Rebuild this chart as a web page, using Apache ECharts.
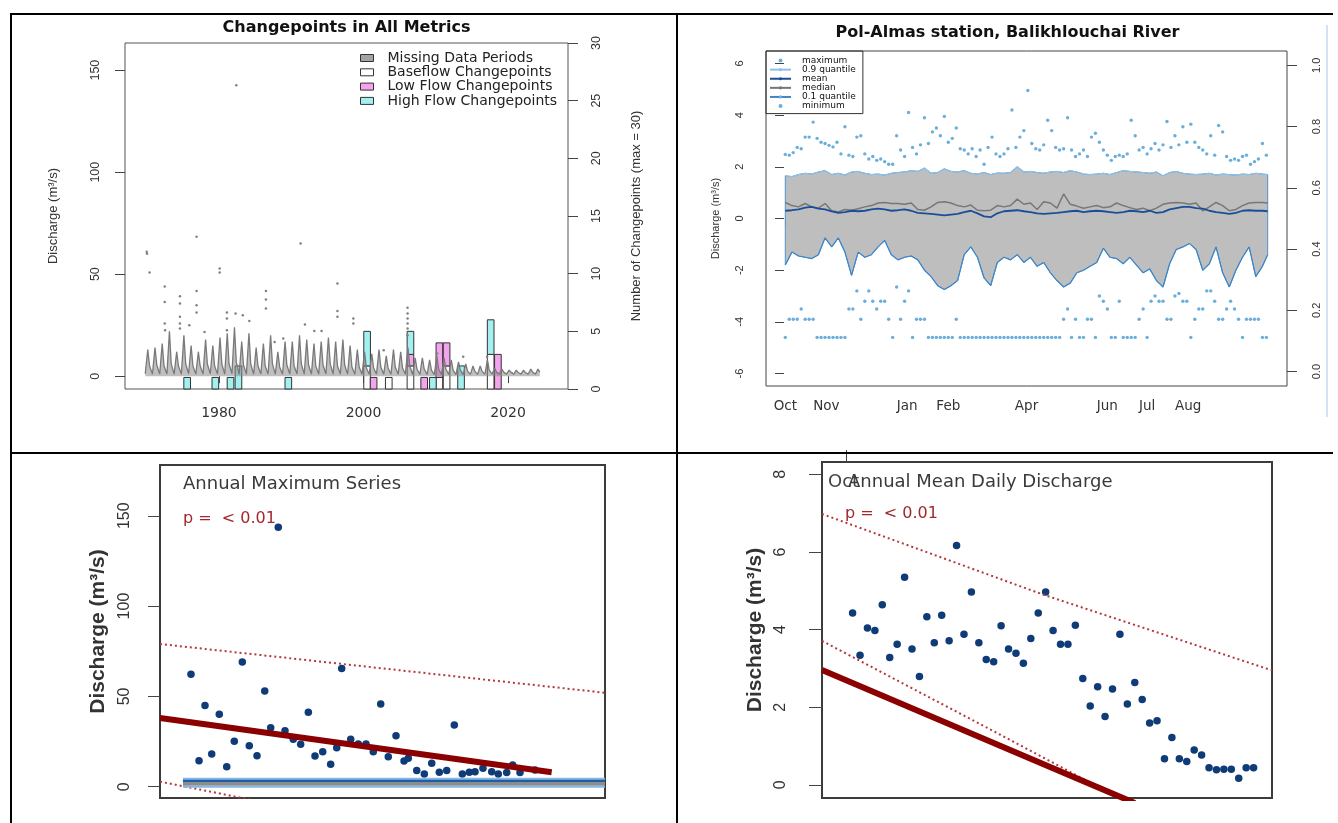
<!DOCTYPE html>
<html><head><meta charset="utf-8">
<script src="https://cdn.jsdelivr.net/npm/echarts@6/dist/echarts.min.js"></script>
<style>
html,body{margin:0;padding:0;background:#fff;}
#chart{position:absolute;left:0;top:0;width:1338px;height:823px;}
.rule{position:absolute;background:#000;pointer-events:none;}
</style></head><body>
<div id="chart"></div>
<div class="rule" style="left:10px;top:13px;width:1323px;height:2px"></div>
<div class="rule" style="left:10px;top:13px;width:2px;height:810px"></div>
<div class="rule" style="left:676px;top:13px;width:2px;height:810px"></div>
<div class="rule" style="left:10px;top:452px;width:1323px;height:2px"></div>
<script>
// ---------- Panel A: Changepoints in All Metrics ----------
const flowYears = [1970,1971,1972,1973,1974,1975,1976,1977,1978,1979,1980,1981,1982,1983,1984,1985,1986,1987,1988,1989,1990,1991,1992,1993,1994,1995,1996,1997,1998,1999,2000,2001,2002,2003,2004,2005,2006,2007,2008,2009,2010,2011,2012,2013,2014,2015,2016,2017,2018,2019,2020,2021,2022,2023,2024];
const flowLow = [1.2,1,1,1.1,1,1,1.2,1,1,1.1, 1,1,1.2,1,1,1,1.1,1,1,1, 1,1.1,1,1,1,1.1,1,1,1,0.9, 0.9,0.9,1,0.9,0.9,0.9,1,0.8,0.8,0.8, 0.8,0.8,0.8,0.8,0.8,0.9,0.9,0.9,1,1, 1,1,1,1,1];
const flowPeak = [13,14,16,22,12,20,15,12,18,15, 19,21,24,17,21,14,16,20,12,17, 17,20,18,16,17,19,17,18,15,13, 12,11,13,10,13,12,14,9,9,8, 10,9,8,7,6,5,5,8,4,3.5, 3,3,3,3.5,3.5];
const flowMid = [5,5.5,5,6,5,6,5,5,6,5, 6,6,7,5.5,6,5,5,6,4.5,5.5, 5,6,5.5,5,5.5,6,5,5.5,4.5,4.5, 4,4,4.5,4,4.5,4,5,3.5,3.5,3, 3.5,3.5,3,3,2.5,2.5,2.5,3,2,2, 2,1.8,1.8,2,2];
const flowOutliers = [[1970.0,61],[1970.05,60],[1970.4,50.8],[1972.5,44],[1972.5,36.3],[1972.5,25.8],[1972.55,22.5],[1974.6,39.2],[1974.6,35.6],[1974.6,29.1],[1974.6,25.8],[1974.6,23.4],[1975.9,25],[1976.9,68.3],[1976.9,41.7],[1976.9,34.8],[1976.9,31.2],[1978.0,21.7],[1980.1,52.8],[1980.1,50.8],[1981.1,31.2],[1981.1,28.3],[1981.1,22.5],[1982.4,142.6],[1982.3,30.7],[1983.3,29.9],[1984.2,27],[1986.5,41.7],[1986.5,37.6],[1986.5,33.2],[1987.7,16.8],[1988.9,18.5],[1991.3,65],[1991.9,25.3],[1993.2,22.2],[1994.2,22.2],[1996.4,45.4],[1996.4,31.9],[1996.4,29.1],[1998.6,28.3],[1998.6,25.8],[2002.8,12.7],[2006.1,33.5],[2006.1,30.7],[2006.1,28.3],[2006.1,25.8],[2006.1,23.4],[2006.1,20.1],[2010.2,11.1],[2013.8,9.5],[2017.1,9.5]];
const cpYears    = [1975.6,1979.5,1981.6,1982.7,1989.6,2000.5,2001.4,2003.5,2006.5,2008.4,2009.6,2010.5,2011.5,2013.5,2017.6,2018.6];
const cpBaseflow = [0,0,0,0,0,2,0,1,2,0,0,1,2,0,3,0];
const cpLowFlow  = [0,0,0,0,0,0,1,0,1,1,0,3,2,0,0,3];
const cpHighFlow = [1,1,1,2,1,3,0,0,2,0,1,0,0,2,3,0];
const yearTicksA = [1980,2000,2020];
const dischargeTicksA = [0,50,100,150];

// ---------- Panel B: Pol-Almas station ----------
const upperQ = [1.65,1.62,1.7,1.75,1.72,1.8,1.85,1.7,1.75,1.68, 1.8,1.82,1.75,1.7,1.72,1.68,1.75,1.78,1.8,1.85, 1.82,1.95,1.75,1.78,1.92,1.82,1.8,1.85,1.75,1.72, 1.78,1.7,1.76,1.75,1.78,2.0,1.8,1.82,1.78,1.75, 1.8,1.82,1.78,1.85,1.8,1.72,1.7,1.72,1.75,1.7, 1.78,1.85,1.82,1.8,1.78,1.75,1.8,1.65,1.78,1.82, 1.75,1.72,1.7,1.72,1.75,1.68,1.72,1.7,1.68,1.72, 1.7,1.75,1.72,1.7];
const lowerQ = [-1.8,-1.3,-1.45,-1.5,-1.55,-1.4,-0.75,-1.1,-0.75,-1.3, -2.2,-1.3,-1.5,-1.4,-1.1,-0.85,-1.4,-1.6,-1.5,-1.45, -1.6,-2.0,-2.25,-2.6,-2.75,-2.6,-2.4,-1.4,-1.1,-1.5, -2.3,-2.6,-1.7,-1.5,-1.6,-1.4,-1.7,-1.5,-1.85,-1.7, -2.1,-2.4,-2.65,-2.5,-2.1,-2.0,-1.85,-1.7,-1.15,-1.5, -1.55,-1.75,-1.5,-1.8,-2.1,-1.95,-2.4,-2.65,-1.75,-1.2, -1.1,-0.97,-1.2,-2.0,-1.75,-1.1,-2.1,-2.65,-2.0,-1.5, -1.1,-2.25,-1.85,-1.4];
const meanQ = [0.3,0.32,0.35,0.42,0.45,0.38,0.35,0.28,0.22,0.25, 0.3,0.28,0.3,0.35,0.38,0.35,0.3,0.32,0.35,0.3, 0.22,0.2,0.18,0.15,0.12,0.15,0.18,0.25,0.3,0.2, 0.08,0.05,0.2,0.28,0.3,0.32,0.28,0.25,0.2,0.18, 0.2,0.22,0.25,0.28,0.3,0.25,0.28,0.3,0.28,0.25, 0.22,0.25,0.3,0.28,0.25,0.3,0.22,0.25,0.35,0.4, 0.45,0.45,0.4,0.38,0.3,0.25,0.22,0.18,0.22,0.3, 0.32,0.3,0.3,0.28];
const medianQ = [0.62,0.5,0.45,0.58,0.45,0.4,0.58,0.3,0.25,0.35, 0.32,0.38,0.45,0.5,0.6,0.62,0.58,0.58,0.55,0.6, 0.35,0.32,0.45,0.62,0.65,0.6,0.5,0.45,0.52,0.32, 0.3,0.32,0.5,0.45,0.5,0.75,0.55,0.6,0.35,0.65, 0.6,0.4,0.95,0.55,0.48,0.4,0.45,0.5,0.42,0.45, 0.6,0.5,0.42,0.35,0.4,0.3,0.4,0.55,0.6,0.62, 0.6,0.55,0.6,0.3,0.45,0.62,0.5,0.3,0.35,0.5, 0.6,0.62,0.62,0.6];
const maxQ = [2.48,2.45,2.55,2.75,2.7,3.15,3.15,3.73,3.1,2.95, 2.9,2.83,2.77,2.95,2.5,3.55,2.45,2.4,3.15,3.2, 2.5,2.3,2.4,2.25,2.3,2.2,2.1,2.1,3.2,2.65, 2.4,4.1,2.75,2.5,2.85,3.9,2.9,3.35,3.5,3.2, 3.95,2.95,3.1,3.5,2.7,2.65,2.5,2.7,2.4,2.65, 2.1,2.75,3.15,2.5,2.4,2.5,2.7,4.2,2.75,3.15, 3.4,4.95,2.9,2.7,2.65,2.85,3.8,3.4,2.75,2.65, 2.7,3.9,2.65,2.4,2.5,2.65,2.4,3.15,3.3,2.95, 2.65,2.45,2.25,2.4,2.45,2.4,2.5,3.8,3.2,2.65, 2.75,2.5,2.7,2.9,2.65,2.85,3.75,2.75,3.2,2.85, 3.55,2.95,3.65,2.95,2.75,2.65,2.5,3.2,2.45,3.6, 3.35,2.4,2.25,2.3,2.25,2.4,2.45,2.1,2.2,2.3, 2.9,2.45];
const minQ = [-4.6,-3.9,-3.9,-3.9,-3.5,-3.9,-3.9,-3.9,-4.6,-4.6, -4.6,-4.6,-4.6,-4.6,-4.6,-4.6,-3.5,-3.5,-2.8,-3.9, -3.2,-2.8,-3.2,-3.5,-3.2,-3.2,-3.9,-4.6,-2.65,-3.9, -3.2,-2.8,-4.6,-3.9,-3.9,-3.9,-4.6,-4.6,-4.6,-4.6, -4.6,-4.6,-4.6,-3.9,-4.6,-4.6,-4.6,-4.6,-4.6,-4.6, -4.6,-4.6,-4.6,-4.6,-4.6,-4.6,-4.6,-4.6,-4.6,-4.6, -4.6,-4.6,-4.6,-4.6,-4.6,-4.6,-4.6,-4.6,-4.6,-4.6, -3.9,-3.5,-4.6,-3.9,-4.6,-4.6,-3.9,-3.9,-4.6,-3.0, -3.2,-3.5,-4.6,-4.6,-3.2,-4.6,-4.6,-4.6,-4.6,-3.9, -3.5,-4.6,-3.2,-3.0,-3.2,-3.2,-3.9,-3.9,-3.0,-2.9, -3.2,-3.2,-4.6,-3.9,-3.5,-3.5,-2.8,-2.8,-3.2,-3.9, -3.9,-3.5,-3.2,-3.5,-3.9,-4.6,-3.9,-3.9,-3.9,-3.9, -4.6,-4.6];
const monthTickDays = [1,32,62,93,124,152,183,213,244,274,305,336];
const monthLabelDays = [1,32,93,124,183,244,274,305];
const monthLabels = ['Oct','Nov','Jan','Feb','Apr','Jun','Jul','Aug'];
const dischargeTicksB = [-6,-4,-2,0,2,4,6];
const fractionTicksB = [0,0.2,0.4,0.6,0.8,1.0];
// day of water year at which each line value / each dot value was read
const sampleDays = []; for (let j = 0; j < 73; j++) sampleDays.push(1 + 5 * j); sampleDays.push(365);
const dotDays = []; for (let i = 0; i < 122; i++) dotDays.push(1 + 3 * i);

// ---------- Panel C: Annual Maximum Series ----------
const annMaxYears = [1970.05,1971.10,1971.88,1972.76,1973.75,1974.72,1975.71,1976.76,1977.67,1978.68,1979.69,1980.47,1981.46,1982.34,1983.42,1984.39,1985.39,1986.26,1987.27,1988.31,1989.10,1989.75,1990.93,1991.92,1992.93,1993.88,1994.85,1995.84,1996.85,1997.90,1998.46,1999.56,2000.55,2001.52,2002.51,2003.48,2004.47,2005.52,2006.43,2007.18,2008.22,2009.36,2010.22,2011.32,2012.10,2013.06,2015.02];
const annMaxValues = [62.2,14.4,44.9,18.1,40.1,11.1,25.1,69,22.7,17.2, 53,32.7,143.6,31,26.2,23.5,41.2,17,19.4,12.4, 21.6,65.5,26.2,23.6,23.6,19.4,45.8,16.6,28.2,14.2, 15.7,8.9,7,13,8,8.9,34.2,7,8,8.3, 10.2,8.3,7,7.8,12,7.8,9.2];
const cTrend = [[1966.0,38],[2017.2,8]];
const cUpperCI = [[1966.0,79],[2024.17,52]];
const cLowerCI = [[1966.0,2.8],[1978.0,-7.3]];
const cBandX = [1969.0,2024.17];
const cBandUpper = [4.4,4.4];
const cBandLower = [0.0,0.0];
const cBandMid = [2.2,2.2];
const cBandMean = [3.4,3.4];
const dischargeTicksC = [0,50,100,150];

// ---------- Panel D: Annual Mean Daily Discharge ----------
const annMeanYears = flowYears;
const annMeanValues = [4.43,3.34,4.04,3.98,4.64,3.28,3.62,5.35,3.5,2.79, 4.33,3.66,4.37,3.71,6.17,3.88,4.97,3.66,3.23,3.17, 4.1,3.5,3.39,3.13,3.77,4.43,4.97,3.98,3.62,3.62, 4.11,2.74,2.03,2.53,1.76,2.47,3.88,2.08,2.64,2.2, 1.59,1.65,0.67,1.22,0.67,0.6,0.9,0.77,0.44,0.39, 0.4,0.4,0.17,0.44,0.44];
const dTrend = [[1965.88,2.96],[2008.0,-0.47]];
const dUpperCI = [[1965.88,6.98],[1995.7,4.9],[2026.48,2.95]];
const dLowerCI = [[1965.88,3.71],[1989.9,1.29],[2007.0,-0.45]];
const dischargeTicksD = [0,2,4,6,8];

// ---------- build ----------
const H = 'DejaVu Sans', V = 'Liberation Sans';
const flowLine = [];
flowYears.forEach((y, i) => {
  flowLine.push([y - 0.2, flowLow[i]]);
  flowLine.push([y + 0.15, flowPeak[i]]);
  flowLine.push([y + 0.4, flowMid[i]]);
});
const baseData = [], lowData = [], highData = [];
cpYears.forEach((yr, i) => {
  const b = cpBaseflow[i], l = b + cpLowFlow[i], h = l + cpHighFlow[i];
  if (cpBaseflow[i]) baseData.push([yr, 0, b]);
  if (cpLowFlow[i]) lowData.push([yr, b, l]);
  if (cpHighFlow[i]) highData.push([yr, l, h]);
});
const CP_HALF = 0.46;
function cpRender(fill) {
  return function (params, api) {
    const x = api.value(0), y0 = api.value(1), y1 = api.value(2);
    const p0 = api.coord([x - CP_HALF, y1]);
    const p1 = api.coord([x + CP_HALF, y0]);
    return {type: 'rect', shape: {x: p0[0], y: p0[1], width: p1[0] - p0[0], height: p1[1] - p0[1]},
      style: {fill: fill, stroke: '#333', lineWidth: 1}};
  };
}
const COL = {missing: '#a3a3a3', base: '#ffffff', low: '#f4a4ec', high: '#a2f0f0'};
const pairs = (xs, ys) => xs.map((x, i) => [x, ys[i]]);

const axisLab = (font, size, extra) => Object.assign({color: '#333', fontFamily: font, fontSize: size}, extra);
const tick = (vals, len) => ({show: true, customValues: vals, length: len, lineStyle: {color: '#444'}});

const option = {
  animation: false,
  textStyle: {fontFamily: H},
  title: [
    {text: 'Changepoints in All Metrics', left: 346.5, top: 20, textAlign: 'center', padding: 0,
     textStyle: {fontFamily: H, fontWeight: 'bold', fontSize: 16, color: '#111'}},
    {text: 'Pol-Almas station, Balikhlouchai River', left: 1007.5, top: 25, textAlign: 'center', padding: 0,
     textStyle: {fontFamily: H, fontWeight: 'bold', fontSize: 16, color: '#111'}},
    {text: 'Annual Maximum Series', left: 183, top: 475, padding: 0,
     textStyle: {fontFamily: H, fontWeight: 'normal', fontSize: 18, color: '#3a3a3a'}},
    {text: 'p =  < 0.01', left: 183, top: 511, padding: 0,
     textStyle: {fontFamily: H, fontWeight: 'normal', fontSize: 16, color: '#a3282e'}},
    {text: 'Oct', left: 828, top: 473, padding: 0,
     textStyle: {fontFamily: H, fontWeight: 'normal', fontSize: 18, color: '#444'}},
    {text: 'Annual Mean Daily Discharge', left: 848, top: 473, padding: 0,
     textStyle: {fontFamily: H, fontWeight: 'normal', fontSize: 18, color: '#3a3a3a'}},
    {text: 'p =  < 0.01', left: 845, top: 506, padding: 0,
     textStyle: {fontFamily: H, fontWeight: 'normal', fontSize: 16, color: '#a3282e'}}
  ],
  legend: [
    {left: 360, top: 51, orient: 'vertical', padding: 0, itemGap: 0.3, itemWidth: 13, itemHeight: 7, icon: 'rect',
     selectedMode: false,
     textStyle: {fontFamily: H, fontSize: 14, color: '#222', lineHeight: 12, padding: [0, 0, 0, 9]},
     data: [
       {name: 'Missing Data Periods', itemStyle: {color: COL.missing, borderColor: '#333', borderWidth: 1}},
       {name: 'Baseflow Changepoints', itemStyle: {color: COL.base, borderColor: '#333', borderWidth: 1}},
       {name: 'Low Flow Changepoints', itemStyle: {color: COL.low, borderColor: '#333', borderWidth: 1}},
       {name: 'High Flow Changepoints', itemStyle: {color: COL.high, borderColor: '#333', borderWidth: 1}}
     ]},
    {left: 766, top: 51, orient: 'vertical', padding: [5, 7, 3, 3], itemGap: 0, itemWidth: 21, itemHeight: 4,
     borderColor: '#333', borderWidth: 1, selectedMode: false,
     textStyle: {fontFamily: H, fontSize: 9, color: '#111', lineHeight: 9.1, padding: [0, 0, 0, 6]},
     data: [{name: 'maximum', icon: 'circle'}, {name: '0.9 quantile'}, {name: 'mean'}, {name: 'median'},
            {name: '0.1 quantile'}, {name: 'minimum', icon: 'circle'}]}
  ],
  grid: [
    {left: 125, top: 43, width: 443, height: 346, show: true, borderColor: '#555', borderWidth: 1, containLabel: false},
    {left: 766, top: 51, width: 521, height: 335, show: true, borderColor: '#444', borderWidth: 1},
    {left: 160, top: 465, width: 445, height: 333, show: true, borderColor: '#3c3c3c', borderWidth: 2},
    {left: 822, top: 462, width: 450, height: 336, show: true, borderColor: '#3c3c3c', borderWidth: 2}
  ],
  xAxis: [
    {gridIndex: 0, type: 'value', min: 1967.0, max: 2028.3, splitLine: {show: false}, axisLine: {show: false},
     axisTick: tick(yearTicksA, 7), axisLabel: axisLab(H, 14, {customValues: yearTicksA, margin: 17, formatter: v => String(v)})},
    {gridIndex: 1, type: 'value', min: -13.56, max: 379.56, splitLine: {show: false}, axisLine: {show: false},
     axisTick: tick(monthTickDays, 7), axisLabel: axisLab(H, 13.5, {customValues: monthLabelDays, margin: 13,
       formatter: v => monthLabels[monthLabelDays.indexOf(v)] || ''})},
    {gridIndex: 2, type: 'value', min: 1966.0, max: 2024.17, show: false, splitLine: {show: false}},
    {gridIndex: 3, type: 'value', min: 1965.88, max: 2026.48, show: false, splitLine: {show: false}}
  ],
  yAxis: [
    {gridIndex: 0, type: 'value', min: -6.28, max: 163.3, splitLine: {show: false}, axisLine: {show: false},
     axisTick: tick(dischargeTicksA, 10), axisLabel: axisLab(V, 12.5, {customValues: dischargeTicksA, rotate: 90, margin: 23}),
     name: 'Discharge (m³/s)', nameLocation: 'middle', nameGap: 65, nameTextStyle: {fontFamily: V, fontSize: 13, color: '#333'}},
    {gridIndex: 0, type: 'value', position: 'right', min: 0, max: 30, interval: 5, splitLine: {show: false}, axisLine: {show: false},
     axisTick: {show: true, length: 10, lineStyle: {color: '#444'}}, axisLabel: axisLab(V, 12.5, {rotate: 90, margin: 22}),
     name: 'Number of Changepoints (max = 30)', nameLocation: 'middle', nameGap: 62,
     nameTextStyle: {fontFamily: V, fontSize: 13, color: '#333'}},
    {gridIndex: 1, type: 'value', min: -6.48, max: 6.48, splitLine: {show: false}, axisLine: {show: false},
     axisTick: tick(dischargeTicksB, 9), axisLabel: axisLab(V, 11, {customValues: dischargeTicksB, rotate: 90, margin: 21}),
     name: 'Discharge (m³/s)', nameLocation: 'middle', nameGap: 45, nameTextStyle: {fontFamily: V, fontSize: 11, color: '#333'}},
    {gridIndex: 1, type: 'value', position: 'right', min: -0.047, max: 1.047, splitLine: {show: false},
     axisLine: {show: false}, axisTick: tick(fractionTicksB, 10),
     axisLabel: axisLab(V, 11, {customValues: fractionTicksB, rotate: 90, margin: 24, formatter: v => v.toFixed(1)})},
    {gridIndex: 2, type: 'value', min: -6.26, max: 178.1, splitLine: {show: false}, axisLine: {show: false},
     axisTick: tick(dischargeTicksC, 12), axisLabel: axisLab(V, 16, {customValues: dischargeTicksC, rotate: 90, margin: 27}),
     name: 'Discharge (m³/s)', nameLocation: 'middle', nameGap: 51,
     nameTextStyle: {fontFamily: V, fontSize: 21, fontWeight: 'bold', color: '#333'}},
    {gridIndex: 3, type: 'value', min: -0.34, max: 8.32, splitLine: {show: false}, axisLine: {show: false},
     axisTick: tick(dischargeTicksD, 13), axisLabel: axisLab(V, 16, {customValues: dischargeTicksD, rotate: 90, margin: 33}),
     name: 'Discharge (m³/s)', nameLocation: 'middle', nameGap: 56,
     nameTextStyle: {fontFamily: V, fontSize: 21, fontWeight: 'bold', color: '#333'}}
  ],
  graphic: [
    {type: 'line', silent: true, shape: {x1: 1327, y1: 25, x2: 1327, y2: 417}, style: {stroke: '#d3e3f2', lineWidth: 2}},
    {type: 'line', silent: true, shape: {x1: 846.5, y1: 450, x2: 846.5, y2: 462}, style: {stroke: '#444', lineWidth: 1}}
  ],
  series: [
    // Panel A
    {type: 'line', name: 'discharge', xAxisIndex: 0, yAxisIndex: 0, data: flowLine, showSymbol: false, silent: true,
     lineStyle: {color: '#7a7a7a', width: 1.3}, areaStyle: {color: '#8a8a8a', opacity: 0.55}},
    {type: 'scatter', name: 'outliers', xAxisIndex: 0, yAxisIndex: 0, data: flowOutliers, symbolSize: 2.5, silent: true,
     itemStyle: {color: '#808080', opacity: 1}},
    {type: 'custom', name: 'Missing Data Periods', xAxisIndex: 0, yAxisIndex: 1, data: [], renderItem: cpRender(COL.missing),
     itemStyle: {color: COL.missing}, encode: {x: 0, y: [1, 2]}},
    {type: 'custom', name: 'Baseflow Changepoints', xAxisIndex: 0, yAxisIndex: 1, data: baseData, renderItem: cpRender(COL.base),
     itemStyle: {color: COL.base}, encode: {x: 0, y: [1, 2]}},
    {type: 'custom', name: 'Low Flow Changepoints', xAxisIndex: 0, yAxisIndex: 1, data: lowData, renderItem: cpRender(COL.low),
     itemStyle: {color: COL.low}, encode: {x: 0, y: [1, 2]}},
    {type: 'custom', name: 'High Flow Changepoints', xAxisIndex: 0, yAxisIndex: 1, data: highData, renderItem: cpRender(COL.high),
     itemStyle: {color: COL.high}, encode: {x: 0, y: [1, 2]}},
    // Panel B
    {type: 'custom', name: 'band', xAxisIndex: 1, yAxisIndex: 2, silent: true, data: [[sampleDays[0], upperQ[0]]],
     encode: {x: 0, y: 1},
     renderItem: function (params, api) {
       const pts = [];
       for (let i = 0; i < sampleDays.length; i++) pts.push(api.coord([sampleDays[i], upperQ[i]]));
       for (let i = sampleDays.length - 1; i >= 0; i--) pts.push(api.coord([sampleDays[i], lowerQ[i]]));
       return {type: 'polygon', shape: {points: pts}, style: {fill: '#bebebe', stroke: '#4f93cf', lineWidth: 1}};
     }},
    {type: 'line', name: '0.9 quantile', xAxisIndex: 1, yAxisIndex: 2, data: pairs(sampleDays, upperQ), symbol: 'none',
     lineStyle: {color: '#8cc0e6', width: 1.2}, itemStyle: {color: '#8cc0e6'}},
    {type: 'line', name: '0.1 quantile', xAxisIndex: 1, yAxisIndex: 2, data: pairs(sampleDays, lowerQ), symbol: 'none',
     lineStyle: {color: '#3d86c8', width: 1.2}, itemStyle: {color: '#6aaedb'}},
    {type: 'line', name: 'median', xAxisIndex: 1, yAxisIndex: 2, data: pairs(sampleDays, medianQ), symbol: 'none',
     lineStyle: {color: '#777777', width: 1.5}, itemStyle: {color: '#777777'}},
    {type: 'line', name: 'mean', xAxisIndex: 1, yAxisIndex: 2, data: pairs(sampleDays, meanQ), symbol: 'none',
     lineStyle: {color: '#1b4e98', width: 1.8}, itemStyle: {color: '#1b4e98'}},
    {type: 'scatter', name: 'maximum', xAxisIndex: 1, yAxisIndex: 2, data: pairs(dotDays, maxQ), symbolSize: 3.4,
     itemStyle: {color: '#6aaedb', opacity: 1}},
    {type: 'scatter', name: 'minimum', xAxisIndex: 1, yAxisIndex: 2, data: pairs(dotDays, minQ), symbolSize: 3.4,
     itemStyle: {color: '#6aaedb', opacity: 1}},
    // Panel C
    {type: 'line', name: 'cUpperCI', xAxisIndex: 2, yAxisIndex: 4, data: cUpperCI, symbol: 'none', silent: true,
     lineStyle: {color: '#b5383c', width: 2, type: [2, 3]}},
    {type: 'line', name: 'cLowerCI', xAxisIndex: 2, yAxisIndex: 4, data: cLowerCI, symbol: 'none', silent: true,
     lineStyle: {color: '#b5383c', width: 2, type: [2, 3]}},
    {type: 'line', name: 'cBandMid', xAxisIndex: 2, yAxisIndex: 4, data: pairs(cBandX, cBandMid), symbol: 'none', silent: true,
     lineStyle: {color: '#8c8c8c', width: 6}},
    {type: 'line', name: 'cBandMean', xAxisIndex: 2, yAxisIndex: 4, data: pairs(cBandX, cBandMean), symbol: 'none', silent: true,
     lineStyle: {color: '#1e5ea8', width: 3}},
    {type: 'line', name: 'cBandUpper', xAxisIndex: 2, yAxisIndex: 4, data: pairs(cBandX, cBandUpper), symbol: 'none', silent: true,
     lineStyle: {color: '#86b8e2', width: 2}},
    {type: 'line', name: 'cBandLower', xAxisIndex: 2, yAxisIndex: 4, data: pairs(cBandX, cBandLower), symbol: 'none', silent: true,
     lineStyle: {color: '#86b8e2', width: 2}},
    {type: 'line', name: 'cTrend', xAxisIndex: 2, yAxisIndex: 4, data: cTrend, symbol: 'none', silent: true,
     lineStyle: {color: '#8b0000', width: 6}},
    {type: 'scatter', name: 'annMax', xAxisIndex: 2, yAxisIndex: 4, data: pairs(annMaxYears, annMaxValues), symbolSize: 7.5,
     itemStyle: {color: '#0f3b77', opacity: 1}},
    // Panel D
    {type: 'line', name: 'dUpperCI', xAxisIndex: 3, yAxisIndex: 5, data: dUpperCI, symbol: 'none', silent: true,
     lineStyle: {color: '#b5383c', width: 2, type: [2, 3]}},
    {type: 'line', name: 'dLowerCI', xAxisIndex: 3, yAxisIndex: 5, data: dLowerCI, symbol: 'none', silent: true,
     lineStyle: {color: '#b5383c', width: 2, type: [2, 3]}},
    {type: 'line', name: 'dTrend', xAxisIndex: 3, yAxisIndex: 5, data: dTrend, symbol: 'none', silent: true,
     lineStyle: {color: '#8b0000', width: 6}},
    {type: 'scatter', name: 'annMean', xAxisIndex: 3, yAxisIndex: 5, data: pairs(annMeanYears, annMeanValues), symbolSize: 7.5,
     itemStyle: {color: '#0f3b77', opacity: 1}}
  ]
};
const chart = echarts.init(document.getElementById('chart'), null, {renderer: 'canvas', width: 1338, height: 823});
chart.setOption(option);
</script></body></html>
